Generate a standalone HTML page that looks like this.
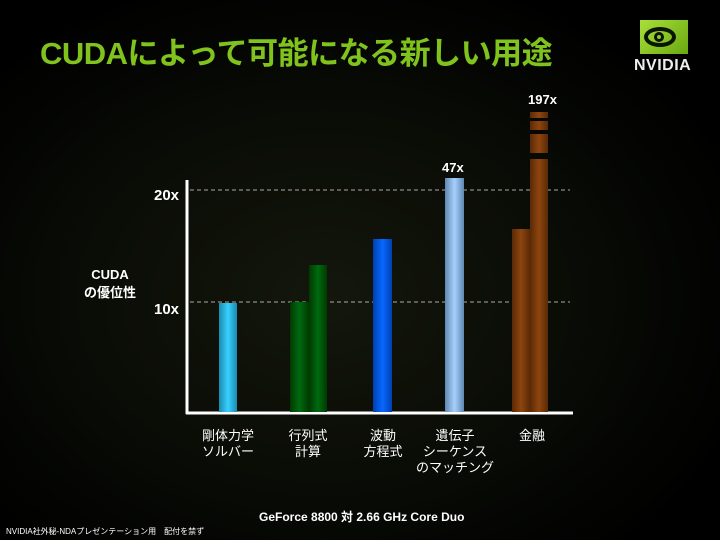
<!DOCTYPE html>
<html><head><meta charset="utf-8"><style>
body{margin:0;width:720px;height:540px;overflow:hidden;background:#000;font-family:"Liberation Sans","Noto Sans CJK JP",sans-serif;position:relative}
.a{position:absolute}
.t{color:#fff;font-weight:bold;font-size:13px}
.lab{position:absolute;color:#fff;font-size:13px;text-align:center;line-height:16px;width:80px}
</style></head><body>
<div class="a" style="left:0;top:0;width:720px;height:540px;background:radial-gradient(ellipse at 45% 55%,#14170c 0%,#080a05 50%,#000 80%)"></div>
<div class="a" style="left:40px;top:28px;color:#7fc31c;font-weight:bold;font-size:31px;letter-spacing:-0.5px">CUDAによって可能になる新しい用途</div>
<div class="a" style="left:640px;top:20px;width:48px;height:34px;background:linear-gradient(135deg,#a8e03a,#6aa812)"></div>
<div class="a" style="left:644px;top:27px;width:32px;height:20px;border:4px solid #0a1500;border-radius:50%;box-sizing:border-box"></div>
<div class="a" style="left:654px;top:32px;width:10px;height:10px;border:3px solid #0a1500;border-radius:50%;box-sizing:border-box"></div>
<div class="a" style="left:634px;top:57px;color:#eee;font-weight:bold;font-size:16px;letter-spacing:0.5px">NVIDIA</div>
<svg class="a" style="left:0;top:0" width="720" height="540">
<line x1="187" y1="180" x2="187" y2="414" stroke="#fff" stroke-width="3"/>
<line x1="186" y1="413" x2="573" y2="413" stroke="#fff" stroke-width="3"/>
<line x1="190" y1="190" x2="570" y2="190" stroke="#aaa" stroke-dasharray="4,3"/>
<line x1="190" y1="302" x2="570" y2="302" stroke="#aaa" stroke-dasharray="4,3"/>
<defs>
<linearGradient id="c"><stop offset="0" stop-color="#1a8ab0"/><stop offset=".5" stop-color="#38d0ff"/><stop offset="1" stop-color="#1a8ab0"/></linearGradient>
<linearGradient id="g"><stop offset="0" stop-color="#003a00"/><stop offset=".5" stop-color="#006a10"/><stop offset="1" stop-color="#003a00"/></linearGradient>
<linearGradient id="b"><stop offset="0" stop-color="#0040b0"/><stop offset=".5" stop-color="#0868ff"/><stop offset="1" stop-color="#0040b0"/></linearGradient>
<linearGradient id="l"><stop offset="0" stop-color="#5f88b0"/><stop offset=".5" stop-color="#a8d0ff"/><stop offset="1" stop-color="#5f88b0"/></linearGradient>
<linearGradient id="o"><stop offset="0" stop-color="#5a2a05"/><stop offset=".5" stop-color="#8e4510"/><stop offset="1" stop-color="#5a2a05"/></linearGradient>
</defs>
<rect x="219" y="303" width="18" height="109" fill="url(#c)"/>
<rect x="290" y="302" width="19" height="110" fill="url(#g)"/>
<rect x="309" y="265" width="18" height="147" fill="url(#g)"/>
<rect x="373" y="239" width="19" height="173" fill="url(#b)"/>
<rect x="445" y="178" width="19" height="234" fill="url(#l)"/>
<rect x="512" y="229" width="18" height="183" fill="url(#o)"/>
<rect x="530" y="159" width="18" height="253" fill="url(#o)"/>
<rect x="530" y="134" width="18" height="19" fill="url(#o)"/>
<rect x="530" y="121" width="18" height="9" fill="url(#o)"/>
<rect x="530" y="112" width="18" height="6" fill="url(#o)"/>
</svg>
<div class="a t" style="left:154px;top:187px;font-size:15px">20x</div>
<div class="a t" style="left:154px;top:301px;font-size:15px">10x</div>
<div class="a t" style="left:80px;top:266px;text-align:center;width:60px;line-height:18px">CUDA<br>の優位性</div>
<div class="a t" style="left:442px;top:160px">47x</div>
<div class="a t" style="left:528px;top:92px">197x</div>
<div class="lab" style="left:188px;top:428px">剛体力学<br>ソルバー</div>
<div class="lab" style="left:268px;top:428px">行列式<br>計算</div>
<div class="lab" style="left:343px;top:428px">波動<br>方程式</div>
<div class="lab" style="left:415px;top:428px">遺伝子<br>シーケンス<br>のマッチング</div>
<div class="lab" style="left:492px;top:428px">金融</div>
<div class="a" style="left:259px;top:508px;color:#fff;font-size:12px;font-weight:bold">GeForce 8800 対 2.66 GHz Core Duo</div>
<div class="a" style="left:6px;top:526px;color:#fff;font-size:8px">NVIDIA社外秘-NDAプレゼンテーション用　配付を禁ず</div>
</body></html>
